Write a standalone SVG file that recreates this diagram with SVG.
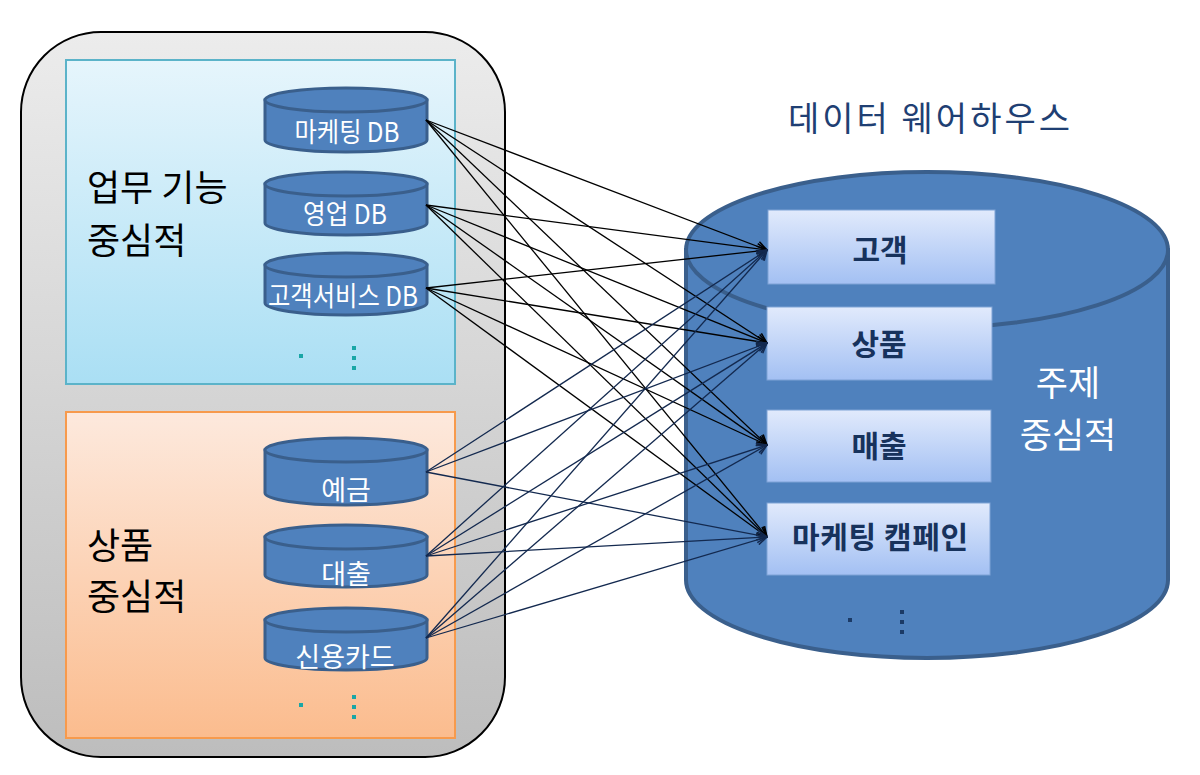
<svg xmlns="http://www.w3.org/2000/svg" width="1200" height="775" viewBox="0 0 1200 775">
<defs>
<linearGradient id="gOuter" x1="0" y1="0" x2="0" y2="1"><stop offset="0" stop-color="#ececec"/><stop offset="1" stop-color="#bdbdbd"/></linearGradient>
<linearGradient id="gBlue" x1="0" y1="0" x2="0" y2="1"><stop offset="0" stop-color="#e6f5fc"/><stop offset="1" stop-color="#aadff4"/></linearGradient>
<linearGradient id="gOrange" x1="0" y1="0" x2="0" y2="1"><stop offset="0" stop-color="#fde9dd"/><stop offset="1" stop-color="#fbbc8e"/></linearGradient>
<linearGradient id="gBox" x1="0" y1="0" x2="0" y2="1"><stop offset="0" stop-color="#e1eafc"/><stop offset="1" stop-color="#a3c0f3"/></linearGradient>
<marker id="aBlack" viewBox="0 0 12 12" refX="11" refY="6" markerWidth="12" markerHeight="12" markerUnits="userSpaceOnUse" orient="auto"><path d="M1,1 L11,6 L1,11" fill="none" stroke="#000" stroke-width="1.5"/></marker>
<marker id="aNavy" viewBox="0 0 12 12" refX="11" refY="6" markerWidth="12" markerHeight="12" markerUnits="userSpaceOnUse" orient="auto"><path d="M1,1 L11,6 L1,11" fill="none" stroke="#13294f" stroke-width="1.5"/></marker>
</defs>
<style>
.cyl{fill:#4f81bd;stroke:#3a5f8c;stroke-width:3}
.cylt{font-family:"Noto Sans CJK KR","Noto Sans",sans-serif;font-size:27px;fill:#fff;text-anchor:middle}
.big{font-family:"Noto Sans CJK KR","Noto Sans",sans-serif;font-size:36px;fill:#000}
.box{fill:url(#gBox);stroke:#7fa3d6;stroke-width:1}
.boxt{font-family:"Noto Sans CJK KR","Noto Sans",sans-serif;font-size:30px;font-weight:bold;fill:#17325c;text-anchor:middle}
.cb{stroke:#000;stroke-width:1.3;fill:none;marker-end:url(#aBlack)}
.cn{stroke:#13294f;stroke-width:1.3;fill:none;marker-end:url(#aNavy)}
.dot{fill:#1aa6a6}
.dotn{fill:#1b3a66}
</style>
<g id="left-panel">
<rect x="21" y="32" width="484" height="725" rx="80" ry="80" fill="url(#gOuter)" stroke="#000" stroke-width="2"/>
</g>
<g id="func-group">
<rect x="66" y="60" width="389" height="324" fill="url(#gBlue)" stroke="#5bb3c9" stroke-width="2"/>
<text class="big" x="87" y="201">업무 기능</text>
<text class="big" x="87" y="254">중심적</text>
<rect class="dot" x="299" y="354" width="4" height="4"/>
<rect class="dot" x="352" y="346" width="4" height="4"/>
<rect class="dot" x="352" y="356" width="4" height="4"/>
<rect class="dot" x="352" y="366" width="4" height="4"/>
</g>
<g id="prod-group">
<rect x="66" y="412" width="389" height="326" fill="url(#gOrange)" stroke="#f79a4c" stroke-width="2"/>
<text class="big" x="87" y="559">상품</text>
<text class="big" x="87" y="610">중심적</text>
<rect class="dot" x="299" y="703" width="4" height="4"/>
<rect class="dot" x="352" y="695" width="4" height="4"/>
<rect class="dot" x="352" y="705" width="4" height="4"/>
<rect class="dot" x="352" y="715" width="4" height="4"/>
</g>
<g id="db-marketing">
<path class="cyl" d="M265,100 L265,140 A81,12 0 0 0 427,140 L427,100 Z"/>
<ellipse class="cyl" cx="346" cy="100" rx="81" ry="12"/>
<text class="cylt" x="347" y="142" textLength="105" lengthAdjust="spacingAndGlyphs">마케팅 DB</text>
</g>
<g id="db-sales">
<path class="cyl" d="M265,184 L265,223 A81,12 0 0 0 427,223 L427,184 Z"/>
<ellipse class="cyl" cx="346" cy="184" rx="81" ry="12"/>
<text class="cylt" x="345" y="224" textLength="84" lengthAdjust="spacingAndGlyphs">영업 DB</text>
</g>
<g id="db-cs">
<path class="cyl" d="M265,265 L265,303 A81,12 0 0 0 427,303 L427,265 Z"/>
<ellipse class="cyl" cx="346" cy="265" rx="81" ry="12"/>
<text class="cylt" x="343" y="306" textLength="150" lengthAdjust="spacingAndGlyphs">고객서비스 DB</text>
</g>
<g id="db-deposit">
<path class="cyl" d="M265,450 L265,493 A81,12 0 0 0 427,493 L427,450 Z"/>
<ellipse class="cyl" cx="346" cy="450" rx="81" ry="12"/>
<text class="cylt" x="346" y="500">예금</text>
</g>
<g id="db-loan">
<path class="cyl" d="M265,537 L265,575 A81,12 0 0 0 427,575 L427,537 Z"/>
<ellipse class="cyl" cx="346" cy="537" rx="81" ry="12"/>
<text class="cylt" x="346" y="584">대출</text>
</g>
<g id="db-card">
<path class="cyl" d="M265,620 L265,658 A81,12 0 0 0 427,658 L427,620 Z"/>
<ellipse class="cyl" cx="346" cy="620" rx="81" ry="12"/>
<text class="cylt" x="345" y="667">신용카드</text>
</g>
<g id="dw">
<text x="929" y="131" font-family="Noto Sans CJK KR, Noto Sans, sans-serif" font-size="34" fill="#1f3f73" text-anchor="middle" textLength="282">데이터 웨어하우스</text>
<path d="M686,250 L686,580 A241,78 0 0 0 1168,580 L1168,250 Z" fill="#4f81bd" stroke="#3a5f8c" stroke-width="4"/>
<ellipse cx="927" cy="250" rx="241" ry="78" fill="#4f81bd" stroke="#3a5f8c" stroke-width="4"/>
<text x="1068" y="396" font-family="Noto Sans CJK KR, Noto Sans, sans-serif" font-size="35" fill="#fff" text-anchor="middle">주제</text>
<text x="1068" y="448" font-family="Noto Sans CJK KR, Noto Sans, sans-serif" font-size="35" fill="#fff" text-anchor="middle">중심적</text>
<rect class="dotn" x="848" y="618" width="4" height="4"/>
<rect class="dotn" x="900" y="610" width="4" height="4"/>
<rect class="dotn" x="900" y="620" width="4" height="4"/>
<rect class="dotn" x="900" y="630" width="4" height="4"/>
</g>
<g id="subj-customer">
<rect class="box" x="768" y="210" width="227" height="74"/>
<text class="boxt" x="880" y="261">고객</text>
</g>
<g id="subj-product">
<rect class="box" x="767" y="307" width="225" height="73"/>
<text class="boxt" x="879" y="355">상품</text>
</g>
<g id="subj-sales">
<rect class="box" x="767" y="410" width="224" height="72"/>
<text class="boxt" x="879" y="457">매출</text>
</g>
<g id="subj-campaign">
<rect class="box" x="767" y="503" width="223" height="72"/>
<text class="boxt" x="880" y="548" textLength="176">마케팅 캠페인</text>
</g>
<g id="connectors">
<line class="cb" x1="426" y1="120" x2="767" y2="250"/>
<line class="cb" x1="426" y1="120" x2="767" y2="343"/>
<line class="cb" x1="426" y1="120" x2="767" y2="445"/>
<line class="cb" x1="426" y1="120" x2="767" y2="537"/>
<line class="cb" x1="426" y1="205" x2="767" y2="250"/>
<line class="cb" x1="426" y1="205" x2="767" y2="343"/>
<line class="cb" x1="426" y1="205" x2="767" y2="445"/>
<line class="cb" x1="426" y1="205" x2="767" y2="537"/>
<line class="cb" x1="426" y1="288" x2="767" y2="250"/>
<line class="cb" x1="426" y1="288" x2="767" y2="343"/>
<line class="cb" x1="426" y1="288" x2="767" y2="445"/>
<line class="cb" x1="426" y1="288" x2="767" y2="537"/>
<line class="cn" x1="426" y1="472" x2="767" y2="250"/>
<line class="cn" x1="426" y1="472" x2="767" y2="343"/>
<line class="cn" x1="426" y1="472" x2="767" y2="537"/>
<line class="cn" x1="426" y1="556" x2="767" y2="250"/>
<line class="cn" x1="426" y1="556" x2="767" y2="343"/>
<line class="cn" x1="426" y1="556" x2="767" y2="445"/>
<line class="cn" x1="426" y1="556" x2="767" y2="537"/>
<line class="cn" x1="426" y1="638" x2="767" y2="250"/>
<line class="cn" x1="426" y1="638" x2="767" y2="343"/>
<line class="cn" x1="426" y1="638" x2="767" y2="445"/>
<line class="cn" x1="426" y1="638" x2="767" y2="537"/>
</g>
</svg>
